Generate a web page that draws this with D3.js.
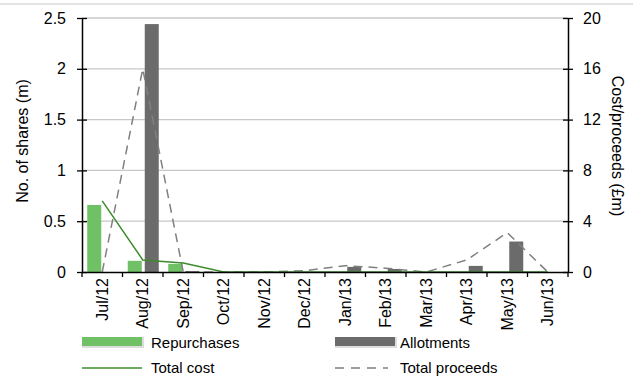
<!DOCTYPE html>
<html><head><meta charset="utf-8">
<script src="https://cdn.jsdelivr.net/npm/d3@7"></script>
<style>body{margin:0;background:#fff;} text{font-family:"Liberation Sans",Arial,sans-serif;}</style>
</head><body><svg id="c" width="633" height="376"></svg>
<script>
const months = ["Jul/12","Aug/12","Sep/12","Oct/12","Nov/12","Dec/12","Jan/13","Feb/13","Mar/13","Apr/13","May/13","Jun/13"];
const repurchases = [0.66,0.11,0.08,0,0,0,0,0,0,0,0,0];
const allotments = [0,2.44,0.01,0,0,0,0.05,0.03,0,0.06,0.30,0];
const totalCost = [5.6,0.95,0.7,0,0,0,0,0,0,0,0,0];
const totalProceeds = [0,16,0,0,0,0.1,0.5,0.3,0,0.95,3.1,0];
const leftTicks = [0,0.5,1,1.5,2,2.5];
const rightTicks = [0,4,8,12,16,20];

const svg = d3.select("#c");
const L=82,R=568,T=18,B=272;
const x = d3.scaleBand().domain(months).range([L,R]);
const yL = d3.scaleLinear().domain([0,2.5]).range([B,T]);
const yR = d3.scaleLinear().domain([0,20]).range([B,T]);

svg.append("line").attr("x1",0).attr("x2",633).attr("y1",4).attr("y2",4).attr("stroke","#e3e3e3").attr("stroke-width",2);

// gridlines
svg.append("g").selectAll("line").data(leftTicks.slice(1)).join("line")
  .attr("x1",L).attr("x2",R).attr("y1",d=>yL(d)).attr("y2",d=>yL(d))
  .attr("stroke","#c8c8c8").attr("stroke-width",1.3);

const cx = d=>x(d)+x.bandwidth()/2;
// bars
svg.append("g").selectAll("rect").data(months).join("rect")
  .attr("x",(d)=>cx(d)-15).attr("width",14)
  .attr("y",(d,i)=>yL(repurchases[i])).attr("height",(d,i)=>B-yL(repurchases[i]))
  .attr("fill","#70c066");
svg.append("g").selectAll("rect").data(months).join("rect")
  .attr("x",(d)=>cx(d)+2).attr("width",14)
  .attr("y",(d,i)=>yL(allotments[i])).attr("height",(d,i)=>B-yL(allotments[i]))
  .attr("fill","#6b6b6b");

// lines
const lineR = d3.line().x((d,i)=>cx(months[i])).y(d=>yR(d));
svg.append("path").attr("d",lineR(totalProceeds)).attr("fill","none")
  .attr("stroke","#808080").attr("stroke-width",1.5).attr("stroke-dasharray","9,6");
svg.append("path").attr("d",lineR(totalCost)).attr("fill","none")
  .attr("stroke","#3c8c2c").attr("stroke-width",1.5);

// axes
const axL = svg.append("g").attr("transform",`translate(${L},0)`)
  .call(d3.axisLeft(yL).tickValues(leftTicks).tickFormat(d3.format("")).tickSize(5).tickSizeOuter(0));
const axR = svg.append("g").attr("transform",`translate(${R},0)`)
  .call(d3.axisRight(yR).tickValues(rightTicks).tickSize(5).tickSizeOuter(0));
const axB = svg.append("g").attr("transform",`translate(0,${B})`)
  .call(d3.axisBottom(x).tickSize(0).tickSizeOuter(0));
[axL,axR,axB].forEach(a=>{a.select(".domain").attr("stroke","#000").attr("stroke-width",1.5);
  a.selectAll(".tick line").attr("stroke","#000").attr("stroke-width",1.3);
  a.selectAll("text").attr("font-size",16).attr("fill","#000").attr("font-family","Liberation Sans, Arial, sans-serif");});
axL.selectAll(".tick line").attr("x1",5);
axR.selectAll(".tick line").attr("x1",-5);
axL.selectAll("text").attr("x",-16);
axR.selectAll("text").attr("x",15);
axB.selectAll("text").attr("transform","rotate(-90)").attr("text-anchor","end")
  .attr("x",-6).attr("y",0).attr("dy","0.35em");
// boundary tick marks
svg.append("g").selectAll("line").data(d3.range(months.length+1)).join("line")
  .attr("x1",i=>L+i*x.bandwidth()).attr("x2",i=>L+i*x.bandwidth())
  .attr("y1",B).attr("y2",B+5).attr("stroke","#000").attr("stroke-width",1.3);

// axis titles
svg.append("text").attr("transform","translate(28,141) rotate(-90)").attr("text-anchor","middle")
  .attr("font-size",16).text("No. of shares (m)");
svg.append("text").attr("transform","translate(612,146) rotate(90)").attr("text-anchor","middle")
  .attr("font-size",16).text("Cost/proceeds (£m)");

// legend
const lg = svg.append("g");
lg.append("rect").attr("x",82).attr("y",337).attr("width",62).attr("height",11).attr("fill","#ddd");
lg.append("rect").attr("x",82).attr("y",337).attr("width",60).attr("height",9).attr("fill","#70c066");
lg.append("text").attr("x",151).attr("y",348).attr("font-size",15).text("Repurchases");
lg.append("rect").attr("x",335).attr("y",337).attr("width",62).attr("height",11).attr("fill","#ddd");
lg.append("rect").attr("x",335).attr("y",337).attr("width",60).attr("height",9).attr("fill","#6b6b6b");
lg.append("text").attr("x",400).attr("y",348).attr("font-size",15).text("Allotments");
lg.append("line").attr("x1",82).attr("x2",142).attr("y1",368).attr("y2",368).attr("stroke","#3c8c2c").attr("stroke-width",1.5);
lg.append("text").attr("x",151).attr("y",373).attr("font-size",15).text("Total cost");
lg.append("line").attr("x1",335).attr("x2",388).attr("y1",368).attr("y2",368).attr("stroke","#808080").attr("stroke-width",1.5).attr("stroke-dasharray","9,7");
lg.append("text").attr("x",400).attr("y",373).attr("font-size",15).text("Total proceeds");
</script></body></html>
